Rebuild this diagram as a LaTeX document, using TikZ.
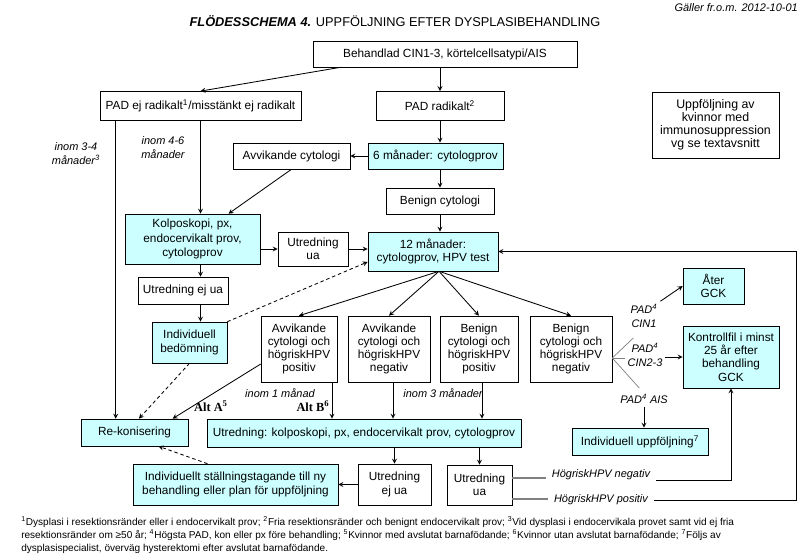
\documentclass[tikz,border=0pt]{standalone}
\usepackage{fontspec}
\setmainfont{Liberation Sans}
\newfontfamily\altfont{Liberation Serif}
\definecolor{ljusbla}{HTML}{CCFFFF}
\definecolor{gralinje}{HTML}{808080}
\newcommand{\rutstil}{\fontsize{8.4}{9.4}\selectfont}
\newcommand{\etstil}{\fontsize{7.8}{10}\selectfont\itshape}
\newcommand{\notstil}{\fontsize{7.15}{9.3}\selectfont}
\begin{document}
\begin{tikzpicture}[
    x=0.025cm, y=-0.025cm,
    ruta/.style={draw, align=center, font=\rutstil, inner sep=1pt},
    bla/.style={ruta, fill=ljusbla},
    etikett/.style={align=center, font=\etstil, inner sep=2pt},
    alt/.style={font=\altfont\bfseries\fontsize{8.8}{10}\selectfont, inner sep=1pt},
    pil/.style={->, >=stealth, line width=0.6pt},
    streckpil/.style={pil, dash pattern=on 2.5pt off 2pt},
    tunn/.style={line width=0.5pt, draw=gralinje}
  ]
  \fill[white] (0,0) rectangle (811,558);
  \useasboundingbox (0,0) rectangle (811,558);

  \node[font=\fontsize{7.8}{9}\selectfont\itshape, anchor=east, inner sep=0pt] (galler) at (798,8) {Gäller fr.o.m. 2012-10-01};
  \node[font=\fontsize{9.1}{11}\selectfont] (rubrik) at (395,21)
    {\textbf{\textit{FLÖDESSCHEMA 4.}} UPPFÖLJNING EFTER DYSPLASIBEHANDLING};

  % behandling och PAD
  \node[ruta, minimum width=6.6cm, minimum height=0.65cm] (beh) at (445,54) {Behandlad CIN1-3, körtelcellsatypi/AIS};
  \node[ruta, minimum width=5.025cm, minimum height=0.73cm] (ejrad) at (200.5,106) {PAD ej radikalt\textsuperscript{1}/misstänkt ej radikalt};
  \node[ruta, minimum width=3.2cm, minimum height=0.73cm] (rad) at (440,106) {PAD radikalt\textsuperscript{2}};
  \node[ruta, minimum width=3.175cm, minimum height=1.65cm, font=\fontsize{8.8}{9.3}\selectfont] (immun) at (715.5,125)
    {Uppföljning av\\kvinnor med\\immunosuppression\\vg se textavsnitt};

  \node[ruta, minimum width=2.925cm, minimum height=0.65cm] (avvcyt) at (291.5,156) {Avvikande cytologi};
  \node[bla, minimum width=3.375cm, minimum height=0.65cm] (man6) at (435.5,156) {6 månader: cytologprov};
  \node[ruta, minimum width=2.7cm, minimum height=0.65cm] (bencyt) at (440,201) {Benign cytologi};
  \node[bla, minimum width=3.25cm, minimum height=0.975cm] (man12) at (433,251.5) {12 månader:\\cytologprov, HPV test};

  \node[bla, minimum width=3.375cm, minimum height=1.25cm, font=\fontsize{8.4}{10}\selectfont] (kolpo) at (192.5,239)
    {Kolposkopi, px,\\endocervikalt prov,\\cytologprov};
  \node[ruta, minimum width=1.75cm, minimum height=0.85cm] (utrua1) at (313,249) {Utredning\\ua};
  \node[ruta, minimum width=2.25cm, minimum height=0.675cm] (utrejua1) at (183,290.5) {Utredning ej ua};
  \node[bla, minimum width=1.875cm, minimum height=1.025cm] (indbed) at (189.5,342.5) {Individuell\\bedömning};
  \node[bla, minimum width=2.675cm, minimum height=0.675cm] (rekon) at (134.5,432.5) {Re-konisering};

  % utfall efter 12 manader
  \node[ruta, minimum width=1.9cm, minimum height=1.65cm] (avvpos) at (299,349) {Avvikande\\cytologi och\\högriskHPV\\positiv};
  \node[ruta, minimum width=2.05cm, minimum height=1.65cm] (avvneg) at (389,349) {Avvikande\\cytologi och\\högriskHPV\\negativ};
  \node[ruta, minimum width=1.95cm, minimum height=1.65cm] (benpos) at (479,349) {Benign\\cytologi och\\högriskHPV\\positiv};
  \node[ruta, minimum width=2.05cm, minimum height=1.65cm] (benneg) at (571,349) {Benign\\cytologi och\\högriskHPV\\negativ};

  \node[bla, minimum width=7.85cm, minimum height=0.7cm] (utr) at (364,433) {Utredning: kolposkopi, px, endocervikalt prov, cytologprov};
  \node[ruta, minimum width=1.825cm, minimum height=1.025cm] (utrejua2) at (394.5,484.5) {Utredning\\ej ua};
  \node[ruta, minimum width=1.625cm, minimum height=1.0cm] (utrua2) at (479.5,485) {Utredning\\ua};
  \node[bla, minimum width=5.125cm, minimum height=1.025cm] (indst) at (235.5,484.5)
    {Individuellt ställningstagande till ny\\behandling eller plan för uppföljning};

  \node[bla, minimum width=1.525cm, minimum height=0.9cm] (ater) at (713.5,286) {Åter\\GCK};
  \node[bla, minimum width=2.4cm, minimum height=1.55cm] (kontr) at (731,357) {Kontrollfil i minst\\25 år efter\\behandling\\GCK};
  \node[bla, minimum width=3.4cm, minimum height=0.675cm] (induppf) at (640,441.5) {Individuell uppföljning\textsuperscript{7}};

  % etiketter
  \node[etikett] (inom34) at (76,154) {inom 3-4\\månader\textsuperscript{3}};
  \node[etikett] (inom46) at (163,148) {inom 4-6\\månader};
  \node[etikett] (inom1) at (280,393) {inom 1 månad};
  \node[etikett] (inom3) at (443,393) {inom 3 månader};
  \node[alt] (altA) at (211,406) {Alt A\textsuperscript{5}};
  \node[alt] (altB) at (313,406) {Alt B\textsuperscript{6}};
  \node[etikett] (pcin1) at (644,316) {PAD\textsuperscript{4}\\CIN1};
  \node[etikett] (pcin23) at (645,355) {PAD\textsuperscript{4}\\CIN2-3};
  \node[etikett] (pais) at (644,399) {PAD\textsuperscript{4} AIS};
  \node[etikett, inner sep=4pt] (hpvneg) at (601,475) {HögriskHPV negativ};
  \node[etikett, inner sep=4pt] (hpvpos) at (601,500) {HögriskHPV positiv};

  \node[anchor=north west, align=left, font=\notstil, inner sep=0pt] (fotnot) at (21,516)
    {\textsuperscript{1}Dysplasi i resektionsränder eller i endocervikalt prov; \textsuperscript{2}Fria resektionsränder och benignt endocervikalt prov; \textsuperscript{3}Vid dysplasi i endocervikala provet samt vid ej fria\\
     resektionsränder om ≥50 år; \textsuperscript{4}Högsta PAD, kon eller px före behandling; \textsuperscript{5}Kvinnor med avslutat barnafödande; \textsuperscript{6}Kvinnor utan avslutat barnafödande; \textsuperscript{7}Följs av\\
     dysplasispecialist, överväg hysterektomi efter avslutat barnafödande.};

  % pilar
  \draw[pil] ([xshift=0.7cm]beh.south west) -- (ejrad.north);
  \draw[pil] (rad.north |- beh.south) -- (rad.north);
  \draw[pil] ([xshift=0.4cm]ejrad.south west) -- ([xshift=0.4cm]ejrad.south west |- rekon.north);
  \draw[pil] (ejrad.south) -- (ejrad.south |- kolpo.north);
  \draw[pil] (man6.west) -- (avvcyt.east);
  \draw[pil] (avvcyt.south) -- ([xshift=0.9cm]kolpo.north);
  \draw[pil] (rad.south) -- (rad.south |- man6.north);
  \draw[pil] (rad.south |- man6.south) -- (rad.south |- bencyt.north);
  \draw[pil] (rad.south |- bencyt.south) -- (rad.south |- man12.north);
  \draw[pil] (kolpo.east |- utrua1.west) -- (utrua1.west);
  \draw[pil] (utrua1.east) -- (utrua1.east -| man12.west);
  \draw[pil] (ejrad.south |- kolpo.south) -- (ejrad.south |- utrejua1.north);
  \draw[pil] (ejrad.south |- utrejua1.south) -- (ejrad.south |- indbed.north);
  \draw[streckpil] (indbed.north east) -- ([yshift=-0.26cm]man12.west);
  \draw[streckpil] (indbed.south) -- ([xshift=0.11cm]rekon.north);

  \coordinate (gren) at ([xshift=0.15cm]man12.south);
  \draw[pil] (gren) -- (avvpos.north);
  \draw[pil] (gren) -- (avvneg.north);
  \draw[pil] (gren) -- (benpos.north);
  \draw[pil] (gren) -- (benneg.north);

  \draw[pil] ([yshift=-0.375cm]avvpos.west) -- ([xshift=0.95cm]rekon.north);
  \draw[pil] ([xshift=0.825cm]avvpos.south) -- ([xshift=0.825cm]avvpos.south |- utr.north);
  \draw[pil] ([xshift=0.1cm]avvneg.south) -- ([xshift=0.1cm]avvneg.south |- utr.north);
  \draw[pil] ([xshift=0.075cm]benpos.south) -- ([xshift=0.075cm]benpos.south |- utr.north);
  \draw[pil] (utrejua2.north |- utr.south) -- (utrejua2.north);
  \draw[pil] (utrua2.north |- utr.south) -- (utrua2.north);
  \draw[pil] (utrejua2.west) -- (indst.east);
  \draw[streckpil] ([xshift=-0.7cm]indst.north) -- ([xshift=0.6cm]rekon.south);

  \draw[gralinje, line width=0.8pt] ([yshift=0.175cm]utrua2.east) -- ([yshift=0.175cm]utrua2.east -| hpvneg.west);
  \draw[gralinje, line width=1.5pt] ([yshift=-0.35cm]utrua2.east) -- ([yshift=-0.35cm]utrua2.east -| hpvpos.west);
  \draw[pil] ([yshift=-0.125cm]hpvneg.east) -| (kontr.south);
  \draw[pil] (hpvpos.east) -- ++(143,0) |- (man12.east);

  \coordinate (padfot) at ([yshift=-0.225cm]benneg.east);
  \draw[tunn] (padfot) -- ++(21,-20);
  \draw[tunn] (padfot) -- (padfot -| pcin23.west);
  \draw[tunn] (padfot) -- ++(27,30);
  \draw[pil] (pcin1.north east) -- (ater.west);
  \draw[pil] (pcin23.east |- kontr.west) -- (kontr.west);
  \draw[pil] (pais.south) -- (pais.south |- induppf.north);
\end{tikzpicture}
\end{document}
